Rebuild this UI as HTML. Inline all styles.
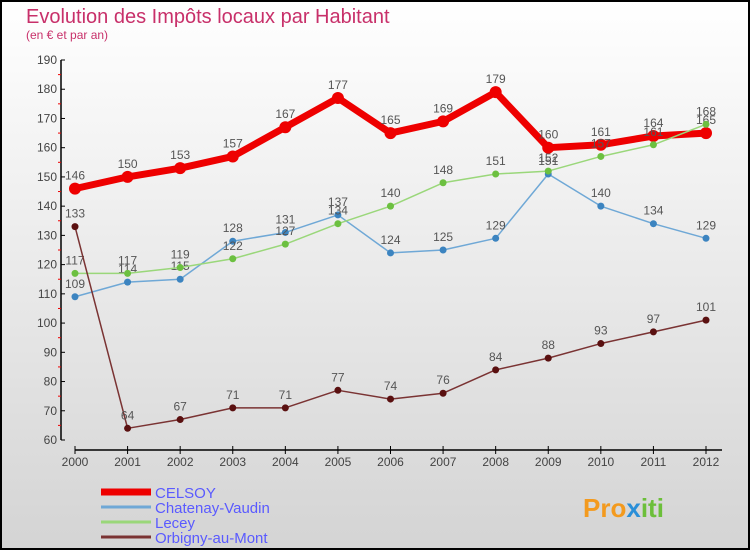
<!DOCTYPE html>
<html><head><meta charset="utf-8"><style>
body{margin:0;width:750px;height:550px;overflow:hidden;font-family:"Liberation Sans",sans-serif}
svg{display:block}
</style></head><body>
<svg id="c" width="750" height="550" xmlns="http://www.w3.org/2000/svg">
<defs><linearGradient id="bg" x1="0" y1="0" x2="0" y2="1"><stop offset="0" stop-color="#ffffff"/><stop offset="1" stop-color="#d4d4d4"/></linearGradient></defs>
<rect x="1" y="1" width="748" height="548" fill="url(#bg)" stroke="#000" stroke-width="2"/>
<text x="26" y="23" font-size="20" fill="#c8306a">Evolution des Impôts locaux par Habitant</text>
<text x="26" y="39" font-size="12" fill="#c8306a">(en € et par an)</text>
<g id="axes"></g><g id="series"></g><g id="legend"></g>
<text x="583" y="517" font-size="26" font-weight="bold" fill="#f39a1e">Pro<tspan fill="#2a8fd8">x</tspan><tspan fill="#6cbf3a">iti</tspan></text>
</svg>
<script>
const years=["2000","2001","2002","2003","2004","2005","2006","2007","2008","2009","2010","2011","2012"];
const celsoy=[146,150,153,157,167,177,165,169,179,160,161,164,165];
const chatenay=[109,114,115,128,131,137,124,125,129,151,140,134,129];
const lecey=[117,117,119,122,127,134,140,148,151,152,157,161,168];
const orbigny=[133,64,67,71,71,77,74,76,84,88,93,97,101];
const yTicks=[60,70,80,90,100,110,120,130,140,150,160,170,180,190];
const NS="http://www.w3.org/2000/svg";
const X=i=>75+i*(706-75)/12;
const Y=v=>440-(v-60)*380/130;
function mk(t,a,p){const e=document.createElementNS(NS,t);for(const k in a)e.setAttribute(k,a[k]);(p||document.getElementById('series')).appendChild(e);return e;}
const ax=document.getElementById('axes');
let e=mk('line',{x1:61,y1:Y(190),x2:61,y2:Y(60),stroke:'#000','stroke-width':1.5},ax);

e=mk('line',{x1:75,y1:450,x2:722,y2:450,stroke:'#000','stroke-width':1.5},ax);

yTicks.forEach(v=>{mk('line',{x1:61,y1:Y(v),x2:65,y2:Y(v),stroke:'#000'},ax);
 if(v<190)mk('line',{x1:58,y1:Y(v+5),x2:61,y2:Y(v+5),stroke:'#e00'},ax);
 const t=mk('text',{x:57,y:Y(v)+4,'font-size':12,fill:'#444','text-anchor':'end'},ax);t.textContent=v;
 });
years.forEach((y,i)=>{mk('line',{x1:X(i),y1:446,x2:X(i),y2:454,stroke:'#000'},ax);
 const t=mk('text',{x:X(i),y:466,'font-size':12,fill:'#444','text-anchor':'middle'},ax);t.textContent=y;
 });
const series=[
 {n:'CELSOY',d:celsoy,c:'#ee0000',w:7,r:6,pc:'#ee0000'},
 {n:'Chatenay-Vaudin',d:chatenay,c:'#6fa8d6',w:1.5,r:3.5,pc:'#3c84c0'},
 {n:'Lecey',d:lecey,c:'#9ad77a',w:1.5,r:3.5,pc:'#6cc040'},
 {n:'Orbigny-au-Mont',d:orbigny,c:'#7a3333',w:1.5,r:3.5,pc:'#5a1010'}];
series.forEach(s=>{
 const g=mk('g',{});
 const l=mk('polyline',{points:s.d.map((v,i)=>X(i)+','+Y(v)).join(' '),fill:'none',stroke:s.c,'stroke-width':s.w,'stroke-linejoin':'round'},g);
 
 s.d.forEach((v,i)=>{const p=mk('circle',{cx:X(i),cy:Y(v),r:s.r,fill:s.pc},g);
  
  const t=mk('text',{x:X(i),y:Y(v)-9,'font-size':12,fill:'#555','text-anchor':'middle'},g);t.textContent=v;
  });
});
const lg=document.getElementById('legend');
series.forEach((s,i)=>{const y=492+i*15;
 const l=mk('line',{x1:101,y1:y,x2:151,y2:y,stroke:s.c,'stroke-width':i?3:7},lg);
 
 const t=mk('text',{x:155,y:y+6,'font-size':15,fill:'#5a5aff'},lg);t.textContent=s.n;
 });
</script>
</body></html>
